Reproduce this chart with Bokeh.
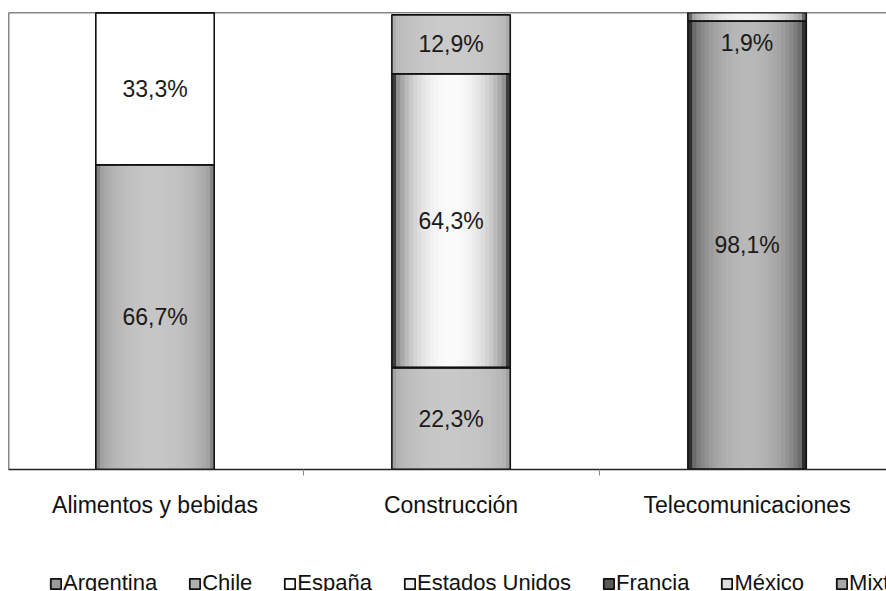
from bokeh.plotting import figure
from bokeh.models import Range1d, FixedTicker, Span, ColumnDataSource, Legend, LegendItem
from bokeh.layouts import column
from bokeh.embed import file_html
from bokeh.resources import INLINE
from bokeh.core.properties import value
import math

# ---------------- data ----------------
categories = ["Alimentos y bebidas", "Construcción", "Telecomunicaciones"]
series_names = ["Argentina", "Chile", "España", "Estados Unidos", "Francia", "México", "Mixto"]
argentina = [66.7, 0.0, 0.0]
chile = [0.0, 22.3, 0.0]
espana = [33.3, 0.0, 0.0]
estados_unidos = [0.0, 64.3, 0.0]
francia = [0.0, 0.0, 98.1]
mexico = [0.0, 12.9, 0.0]
mixto = [0.0, 0.0, 1.9]
series_values = [argentina, chile, espana, estados_unidos, francia, mexico, mixto]

# ---------------- styles ----------------
FONT = "Liberation Sans"
edge_colors = ["#858585", "#a2a2a2", "#ffffff", "#3c3c3c", "#2e2e2e", "#acacac", "#666666"]
center_colors = ["#c6c6c6", "#c8c8c8", "#ffffff", "#fbfbfb", "#b8b8b8", "#cacaca", "#f2f2f2"]
legend_colors = ["#9a9a9a", "#b0b0b0", "#ffffff", "#f0f0f0", "#5a5a5a", "#dddddd", "#a8a8a8"]
BAR_W = 0.4
N_LAYERS = 14


def hex2rgb(h):
    h = h.lstrip("#")
    return [int(h[i:i + 2], 16) for i in (0, 2, 4)]


def mix(c1, c2, f):
    a, b = hex2rgb(c1), hex2rgb(c2)
    return "#%02x%02x%02x" % tuple(int(round(a[i] + (b[i] - a[i]) * f)) for i in range(3))


x_pos = [i + 0.5 for i in range(len(categories))]
data = {"x": x_pos}
for name, vals in zip(series_names, series_values):
    data[name] = vals
source = ColumnDataSource(data)

p = figure(frame_width=878, frame_height=457, x_range=Range1d(0.005, 2.971), y_range=Range1d(0, 100),
           output_backend="svg", toolbar_location=None, y_axis_location=None,
           min_border_left=8, min_border_right=0, min_border_top=12, min_border_bottom=91)
p.outline_line_color = None
p.grid.visible = False
p.background_fill_color = "white"

# base layer
p.vbar_stack(series_names, x="x", width=BAR_W, source=source,
             fill_color=edge_colors, line_color=None)
# shading layers (cylinder look)
for k in range(1, N_LAYERS):
    t = 1 - (k + 0.5) / N_LAYERS
    f = math.sqrt(max(0.0, 1 - t * t))
    cols = [mix(e, c, f) for e, c in zip(edge_colors, center_colors)]
    p.vbar_stack(series_names, x="x", width=BAR_W * (1 - k / N_LAYERS), source=source,
                 fill_color=cols, line_color=None)
# outlines on top
p.vbar_stack(series_names, x="x", width=BAR_W, source=source,
             fill_alpha=0, line_color="#111111", line_width=1.6)

# data labels
lx, ly, lt, loff = [], [], [], []
for i, xv in enumerate(x_pos):
    base = 0.0
    for vals in series_values:
        v = vals[i]
        if v > 0:
            lx.append(xv)
            ly.append(base + v / 2)
            lt.append(f"{v:.1f}".replace(".", ",") + "%")
            loff.append(26 if v < 5 else 0)
        base += v
lsrc = ColumnDataSource(dict(x=lx, y=ly, t=lt, off=loff))
p.text(x="x", y="y", text="t", y_offset="off", source=lsrc, text_align="center",
       text_baseline="middle", text_font=value(FONT), text_font_size="23px",
       text_color="#1a1a1a")

# frame lines
p.add_layout(Span(location=100, dimension="width", line_color="#111111", line_width=1.5))
p.add_layout(Span(location=0.005, dimension="height", line_color="#111111", line_width=1.5))

# x axis
ax = p.xaxis[0]
ax.ticker = FixedTicker(ticks=x_pos, minor_ticks=[i for i in range(1, len(categories))])
ax.major_label_overrides = {xv: c for xv, c in zip(x_pos, categories)}
ax.major_tick_out = 0
ax.major_tick_in = 0
ax.minor_tick_out = 6
ax.minor_tick_in = 0
ax.minor_tick_line_color = "#888888"
ax.axis_line_color = "#222222"
ax.axis_line_width = 1.5
ax.major_label_text_font = FONT
ax.major_label_text_font_size = "23px"
ax.major_label_text_color = "#111111"
ax.major_label_standoff = 16

# ---------------- legend strip ----------------
p2 = figure(width=886, height=31, x_range=Range1d(0, 1), y_range=Range1d(-10, -9),
            output_backend="svg", toolbar_location=None, x_axis_location=None,
            y_axis_location=None, min_border=0)
p2.outline_line_color = None
p2.grid.visible = False
leg_rs = p2.vbar_stack(series_names, x="x", width=BAR_W, source=source,
                       fill_color=legend_colors, line_color="#111111", line_width=1.8)
for r in leg_rs:
    r.visible = False
items = [LegendItem(label=n, renderers=[r]) for n, r in zip(series_names, leg_rs)]
legend = Legend(items=items, orientation="horizontal", location=(41, -5), margin=0, padding=0,
                spacing=31, label_standoff=1, glyph_width=13, glyph_height=13,
                label_text_font=FONT, label_text_font_size="22px", label_text_color="#111111",
                border_line_color=None, background_fill_alpha=0,
                inactive_fill_alpha=0)
p2.add_layout(legend, "center")

open("out.html", "w").write(file_html(column(p, p2, spacing=0), INLINE))
